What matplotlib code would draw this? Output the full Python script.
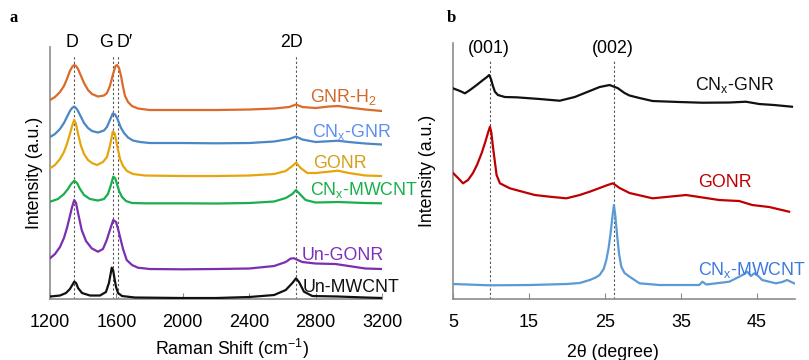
import matplotlib
matplotlib.use("Agg")
import matplotlib.pyplot as plt

plt.rcParams["font.family"] = ["Liberation Sans", "DejaVu Sans"]
plt.rcParams["mathtext.fontset"] = "custom"
plt.rcParams["mathtext.rm"] = "Liberation Sans"
plt.rcParams["mathtext.it"] = "Liberation Sans"
plt.rcParams["mathtext.default"] = "regular"

FS = 12.8

# ---- panel a: Raman spectra (intensity in a.u., already stacked) ----
wn_gnr_h2 = [1200, 1230, 1260, 1284, 1302, 1320, 1333, 1345, 1357, 1369, 1387, 1405, 1429, 1453, 1489,
             1525, 1543, 1561, 1580, 1595, 1604, 1616, 1628, 1640, 1652, 1670, 1694, 1730, 1802, 2000,
             2200, 2400, 2550, 2640, 2682, 2720, 2800, 2880, 2935, 3000, 3100, 3200]
int_gnr_h2 = [199, 202, 207, 213, 220, 228, 232, 234, 233, 230, 223, 216, 209, 205, 202.5,
              203.5, 206, 213, 225, 233, 234, 231, 223, 212, 203, 197, 193, 190.5, 189, 189,
              189, 189.5, 190.5, 192, 194.5, 192, 191, 192.5, 193, 191.5, 189.5, 188]

wn_cnx_gnr = [1200, 1230, 1260, 1284, 1302, 1320, 1333, 1345, 1357, 1369, 1387, 1405, 1429, 1453, 1489,
              1525, 1543, 1561, 1578, 1592, 1604, 1616, 1628, 1646, 1670, 1700, 1742, 1802, 2000,
              2200, 2400, 2550, 2640, 2682, 2720, 2800, 2935, 3000, 3100, 3200]
int_cnx_gnr = [162, 165, 170, 176, 182, 188, 191, 192.5, 191, 188, 182, 176, 171, 168, 166.5,
               168.5, 172, 179, 185.5, 184.5, 181, 176, 171, 166, 161.5, 158.5, 157, 156, 156,
               155.7, 156, 157.5, 160, 162.5, 159.5, 157, 158.3, 157, 155.5, 154.5]

wn_gonr = [1200, 1230, 1260, 1284, 1302, 1320, 1333, 1346, 1357, 1369, 1387, 1405, 1429, 1453, 1483,
           1519, 1543, 1561, 1578, 1589, 1598, 1610, 1622, 1640, 1664, 1700, 1772, 2000,
           2200, 2400, 2550, 2620, 2660, 2682, 2710, 2750, 2800, 2935, 3000, 3100, 3200]
int_gonr = [130.7, 134, 140, 147, 155, 165, 173, 179, 175, 165, 153, 145, 139, 136, 134,
            137, 142, 153, 167.3, 166, 159, 149, 140, 133, 128, 125, 123.5, 123,
            123, 123.5, 125, 128, 133, 136.3, 131, 126, 126, 128.3, 126, 123.5, 123]

wn_cnx_mwcnt = [1200, 1248, 1284, 1308, 1327, 1346, 1363, 1381, 1405, 1441, 1489, 1525, 1549, 1567, 1581,
                1592, 1604, 1616, 1634, 1658, 1694, 1772, 2000, 2200, 2400, 2550, 2620, 2660, 2682,
                2710, 2740, 2800, 2935, 3100, 3200]
int_cnx_mwcnt = [97.3, 100, 105, 110, 115, 118.3, 116, 110, 104, 100, 98.5, 100, 105, 114, 122.3,
                 121, 115, 108, 102, 98, 96, 95.7, 95.7, 95.5, 96, 97.5, 101, 105, 109,
                 104, 99, 96.5, 97, 96, 95.7]

wn_un_gonr = [1200, 1230, 1260, 1284, 1302, 1320, 1333, 1346, 1357, 1369, 1391, 1417, 1451, 1489, 1519,
              1542, 1561, 1581, 1598, 1610, 1622, 1640, 1662, 1694, 1730, 1802, 2000, 2200, 2400,
              2550, 2620, 2650, 2670, 2720, 2800, 2920, 3000, 3100, 3200]
int_un_gonr = [40.7, 45, 52, 61, 71, 83, 92, 99, 96, 86, 69, 58, 50.7, 47.3, 50,
               59, 69, 79, 77, 70, 62, 50, 39, 34, 31.3, 30, 29.7, 30, 30.5,
               33, 37, 40.5, 40.7, 37, 35.5, 35, 33, 30.5, 30]

wn_un_mwcnt = [1200, 1260, 1296, 1320, 1336, 1346, 1357, 1369, 1393, 1441, 1501, 1537, 1555, 1564, 1572,
               1580, 1589, 1598, 1610, 1634, 1712, 2000, 2200, 2400, 2550, 2620, 2660, 2682, 2700,
               2730, 2780, 2935, 3100, 3200]
int_un_mwcnt = [2.5, 3.5, 6, 10, 14.5, 17.3, 16, 11, 6, 3.5, 3.5, 7, 16, 24, 31.3,
                29, 20, 12, 6, 3, 1.5, 1, 1, 2, 4, 9, 16, 20.7, 17,
                7.3, 3, 2.5, 1.5, 1]

raman_names = ["GNR-H$_2$", "CN$_x$-GNR", "GONR", "CN$_x$-MWCNT", "Un-GONR", "Un-MWCNT"]
raman_peaks = {"D": 1345, "G": 1578, "D′": 1612, "2D": 2682}

# ---- panel b: XRD patterns (intensity in a.u., already stacked) ----
tt_cnx_gnr = [5, 5.92, 6.57, 7.23, 8.11, 8.94, 9.46, 9.76, 9.99, 10.25, 10.51, 10.91, 11.82, 13.36, 16.42,
              19.04, 21.01, 22.98, 24.29, 25.6, 26.65, 27.57, 28.23, 29.54, 31.25, 34.8, 37.81, 41.35,
              43.54, 45.3, 47.26, 49.6]
xrd_cnx_gnr = [210.7, 208, 205.7, 209, 214, 219, 222, 224, 220, 213, 207.3, 204, 202, 201.7, 200,
               198.3, 202, 208, 212, 214, 211, 206, 203.5, 201, 198, 197, 196.3, 196.5,
               197.3, 195, 194, 192.3]

tt_gonr = [5, 5.66, 6.31, 6.97, 7.62, 8.15, 8.77, 9.2, 9.59, 9.86, 10.05, 10.25, 10.51, 10.73, 11.17,
           12.48, 13.79, 15.76, 17.73, 19.92, 21.67, 22.98, 24.29, 25.34, 26.04, 26.92, 28.23, 31.25,
           35.67, 40.03, 42.65, 44.37, 46.6, 49.23]
xrd_gonr = [126, 121, 115.7, 119, 126, 134, 146, 156, 166, 172.3, 166, 152.3, 137, 124, 115.7,
            110.7, 108, 104, 102.3, 100.7, 104, 107.3, 111, 114, 115.7, 111, 106, 100.7,
            104, 99, 98, 94, 92, 87.3]

tt_cnx_mwcnt = [5, 9.86, 15.1, 19.92, 21.67, 22.98, 23.77, 24.29, 24.82, 25.17, 25.47, 25.73, 26.0, 26.17,
                26.33, 26.61, 26.85, 27.14, 27.57, 28.23, 29.54, 32.17, 37.41, 37.81, 38.33, 41.35, 42.66,
                43.32, 43.71, 44.2, 44.63, 45.16, 45.68, 47.48, 48.31, 48.96, 49.88]
xrd_cnx_mwcnt = [15, 13.7, 14, 15, 16, 19, 21.5, 24, 30, 39, 51, 65.7, 84, 94,
                 85, 62.3, 45, 32.3, 26, 22.3, 15.7, 14, 14, 17.3, 14.5, 17.3, 22.3,
                 25, 27.3, 23, 25.7, 23, 19, 15.7, 17, 19, 15.7]

xrd_names = ["CN$_x$-GNR", "GONR", "CN$_x$-MWCNT"]
xrd_peaks = {"(001)": 9.9, "(002)": 26.2}


def style_axes(ax):
    for side in ("top", "right"):
        ax.spines[side].set_visible(False)
    for side in ("left", "bottom"):
        ax.spines[side].set_color("#8c8c8c")
        ax.spines[side].set_linewidth(1.2)
    ax.set_yticks([])
    ax.tick_params(axis="x", direction="in", length=4, color="#8c8c8c",
                   labelsize=13, pad=11)


fig = plt.figure(figsize=(8.09, 3.6), dpi=100)
ax_a = fig.add_axes([0.0618, 0.1694, 0.4104, 0.70])
ax_b = fig.add_axes([0.560, 0.1694, 0.4227, 0.7111])

# panel a
raman_series = [
    (wn_gnr_h2, int_gnr_h2, "#dc6a29", "#d2692a", 2766, 202),
    (wn_cnx_gnr, int_cnx_gnr, "#4b87c5", "#5b8ff2", 2778, 167),
    (wn_gonr, int_gonr, "#e5a60c", "#d4a017", 2784, 136),
    (wn_cnx_mwcnt, int_cnx_mwcnt, "#1aae4c", "#18b048", 2766, 109),
    (wn_un_gonr, int_un_gonr, "#7a2fb0", "#7b30be", 2718, 44),
    (wn_un_mwcnt, int_un_mwcnt, "#111111", "#111111", 2724, 12),
]
for (x, y, c, lc, lx, ly), name in zip(raman_series, raman_names):
    ax_a.plot(x, y, color=c, linewidth=1.6, zorder=3)
    ax_a.text(lx, ly, name, color=lc, fontsize=FS, va="center", ha="left", zorder=4)

for lab, pos in raman_peaks.items():
    ax_a.axvline(pos, ymin=0, ymax=0.968, color="#555555", linewidth=0.8,
                 linestyle=(0, (2, 2)), zorder=1)
lab_pos = {"D": 1331, "G": 1537, "D′": 1652, "2D": 2656}
for lab, pos in lab_pos.items():
    ax_a.text(pos, 1.016, lab, transform=ax_a.get_xaxis_transform(), fontsize=FS,
              ha="center", va="center")

ax_a.set_xlim(1200, 3200)
ax_a.set_ylim(0, 252)
ax_a.set_xticks(range(1200, 3201, 400))
style_axes(ax_a)
ax_a.set_xlabel("Raman Shift (cm$^{-1}$)", fontsize=FS, va="center")
ax_a.xaxis.set_label_coords(0.548, -0.198)
ax_a.set_ylabel("Intensity (a.u.)", fontsize=FS)
ax_a.yaxis.set_label_coords(-0.02, 0.5)
fig.text(0.012, 0.94, "a", fontsize=12, fontweight="bold", family="Liberation Serif")

# panel b
xrd_series = [
    (tt_cnx_gnr, xrd_cnx_gnr, "#111111", "#111111", 36.8, 214),
    (tt_gonr, xrd_gonr, "#c00000", "#c00000", 37.3, 117),
    (tt_cnx_mwcnt, xrd_cnx_mwcnt, "#5b9bd5", "#3c78e0", 37.2, 29),
]
for (x, y, c, lc, lx, ly), name in zip(xrd_series, xrd_names):
    ax_b.plot(x, y, color=c, linewidth=1.6, zorder=3)
    ax_b.text(lx, ly, name, color=lc, fontsize=FS, va="center", ha="left", zorder=4,
              clip_on=False)

for lab, pos in xrd_peaks.items():
    ax_b.axvline(pos, ymin=0, ymax=0.934, color="#555555", linewidth=0.8,
                 linestyle=(0, (2, 2)), zorder=1)
    ax_b.text(pos - 0.2, 0.979, lab, transform=ax_b.get_xaxis_transform(), fontsize=FS,
              ha="center", va="center")

ax_b.set_xlim(5, 50)
ax_b.set_ylim(0, 256)
ax_b.set_xticks([5, 15, 25, 35, 45])
style_axes(ax_b)
ax_b.set_xlabel("2θ (degree)", fontsize=FS, va="center")
ax_b.xaxis.set_label_coords(0.468, -0.207)
ax_b.set_ylabel("Intensity (a.u.)", fontsize=FS)
ax_b.yaxis.set_label_coords(-0.05, 0.5)
fig.text(0.552, 0.94, "b", fontsize=12, fontweight="bold", family="Liberation Serif")

fig.savefig("out.png", dpi=100)
